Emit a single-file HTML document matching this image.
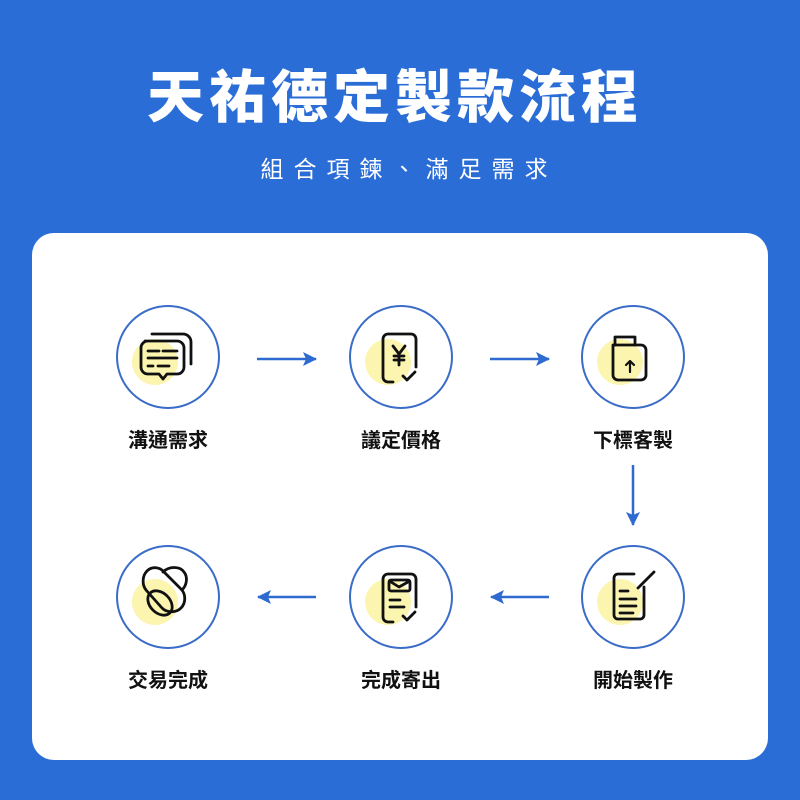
<!DOCTYPE html>
<html><head><meta charset="utf-8"><style>
html,body{margin:0;padding:0;background:#2a6dd7;}
body{width:800px;height:800px;overflow:hidden;position:relative;font-family:"Liberation Sans","Noto Sans CJK TC",sans-serif;}
.t{position:absolute;left:0;width:800px;text-align:center;color:#fff;}
</style></head><body>
<div class="t" style="top:64px;left:-5px;font-size:57px;font-weight:900;letter-spacing:5px;line-height:68px;">天祐德定製款流程</div>
<div class="t" style="top:154px;left:9px;font-size:23px;letter-spacing:10px;line-height:30px;">組合項鍊、滿足需求</div>
<svg width="800" height="800" style="position:absolute;left:0;top:0" font-family="Liberation Sans, Noto Sans CJK TC, sans-serif">
<rect x="32" y="233" width="736" height="527" rx="22" fill="#fff"/>
<defs><marker id="a" markerWidth="16" markerHeight="14" refX="13" refY="7" orient="auto" markerUnits="userSpaceOnUse"><path d="M0,0 L14,7 L0,14 L3,7 Z" fill="#2e6ad0"/></marker></defs>
<g stroke="#2e6ad0" stroke-width="2.5" marker-end="url(#a)">
<line x1="257" y1="359" x2="316" y2="359"/>
<line x1="490" y1="359" x2="549" y2="359"/>
<line x1="633" y1="465" x2="633" y2="525"/>
<line x1="316" y1="597" x2="258" y2="597"/>
<line x1="549" y1="597" x2="491" y2="597"/>
</g>
<g fill="none" stroke="#3a6cc8" stroke-width="2">
<circle cx="168" cy="357" r="51"/><circle cx="401" cy="357" r="51"/><circle cx="633" cy="357" r="51"/>
<circle cx="168" cy="597" r="51"/><circle cx="401" cy="597" r="51"/><circle cx="633" cy="597" r="51"/>
</g>
<g fill="#fbf5b0">
<circle cx="155" cy="362" r="23"/><circle cx="388" cy="362" r="23"/><circle cx="620" cy="362" r="23"/>
<circle cx="155" cy="602" r="23"/><circle cx="388" cy="602" r="23"/><circle cx="620" cy="602" r="23"/>
</g>
<g fill="none" stroke="#111" stroke-width="2.8" stroke-linecap="round" stroke-linejoin="round">
<path d="M152,334 h31 a8,8 0 0 1 8,8 v22"/>
<path d="M145,341 h32 a7,7 0 0 1 7,7 v19 a7,7 0 0 1 -7,7 h-10 l-4,5 l-4,-5 h-11 a7,7 0 0 1 -7,-7 v-19 a7,7 0 0 1 7,-7 z"/>
<path d="M148,351 h11 M163,351 h14 M148,358 h29 M148,366 h5 M158,366 h11"/>
<path d="M393,382 h-5 a5,5 0 0 1 -5,-5 v-38 a5,5 0 0 1 5,-5 h23 a5,5 0 0 1 5,5 v28"/>
<path d="M393,346 l6,8 l6,-8 M399,354 v11 M394,356 h10 M394,360 h10"/>
<path d="M403,376 l4,4 l8,-8"/>
<path d="M615,345 v-8 h20 v8"/>
<path d="M613,345 h28 a5,5 0 0 1 5,5 v25 a5,5 0 0 1 -5,5 h-23 a5,5 0 0 1 -5,-5 z"/>
<path d="M630,372 v-11 M626,365 l4,-4 l4,4" stroke-width="2.2"/>
<path d="M147,571 c5,-5 13,-4 17,1 l17,17 c5,5 5,14 0,19 c-5,5 -14,5 -19,0 l-16,-18 c-4,-5 -4,-14 1,-19z"/>
<path d="M163,572 c6,-6 17,-6 21,0 c4,5 3,13 -2,18"/>
<ellipse cx="160" cy="603" rx="10" ry="14" transform="rotate(-45 160 603)"/>
<path d="M393,622 h-5 a5,5 0 0 1 -5,-5 v-38 a5,5 0 0 1 5,-5 h23 a5,5 0 0 1 5,5 v28"/>
<rect x="389" y="580" width="21" height="11" rx="2"/>
<path d="M391,582 l8,5 l9,-5 M390,600 h10 M390,607 h14"/>
<path d="M403,616 l4,4 l8,-8"/>
<path d="M634,574 h-16 a4,4 0 0 0 -4,4 v37 a4,4 0 0 0 4,4 h22 a4,4 0 0 0 4,-4 v-28"/>
<path d="M638,588 l16,-16"/>
<path d="M620,591 h8 M620,599 h16 M620,606 h16 M620,613 h13"/>
</g>
<g font-size="20" font-weight="700" fill="#111" text-anchor="middle">
<text x="168" y="447">溝通需求</text><text x="401" y="447">議定價格</text><text x="633" y="447">下標客製</text>
<text x="168" y="687">交易完成</text><text x="401" y="687">完成寄出</text><text x="633" y="687">開始製作</text>
</g>
</svg>
</body></html>
